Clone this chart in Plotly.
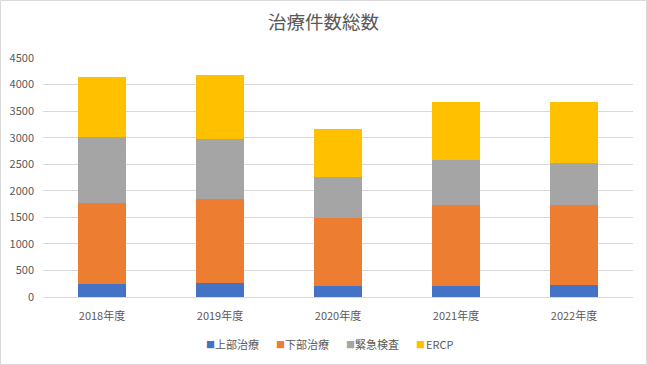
import plotly.graph_objects as go

categories = ["2018年度", "2019年度", "2020年度", "2021年度", "2022年度"]
upper = [251, 270, 213, 213, 232]
lower = [1526, 1582, 1281, 1526, 1507]
emergency = [1243, 1130, 772, 847, 791]
ercp = [1130, 1205, 904, 1093, 1149]

series_names = ["上部治療", "下部治療", "緊急検査", "ERCP"]
colors = ["#4472C4", "#ED7D31", "#A5A5A5", "#FFC000"]

W, H = 647, 365
L, R, T, B = 43, 14, 58, 68
pw, ph = W - L - R, H - T - B

fig = go.Figure()
for name, vals, c in zip(series_names, [upper, lower, emergency, ercp], colors):
    fig.add_trace(go.Bar(x=categories, y=vals, name=name, marker=dict(color=c, line=dict(width=0))))

font_family = "Noto Sans CJK JP, Liberation Sans, sans-serif"
fig.update_layout(
    width=W, height=H,
    barmode="stack", bargap=0.6,
    margin=dict(l=L, r=R, t=T, b=B, autoexpand=False),
    paper_bgcolor="white", plot_bgcolor="white",
    font=dict(family=font_family, color="#595959", size=11),
    title=dict(text="治療件数総数", x=0.5, xanchor="center", y=1 - 23 / H, yanchor="middle",
               font=dict(size=18.5, color="#595959", family=font_family)),
    xaxis=dict(showgrid=False, showline=True, linecolor="#D9D9D9", ticks="", automargin=False,
               ticklabelstandoff=9, tickfont=dict(size=11, color="#595959")),
    yaxis=dict(range=[0, 4500], dtick=500, showgrid=True, gridcolor="#D9D9D9", zeroline=False,
               showline=False, ticks="", automargin=False, ticklabelstandoff=8,
               tickfont=dict(size=11, color="#595959")),
    showlegend=False,
)

# legend drawn as text annotations (Excel-style compact legend)
legend_y = -(344 - (H - B)) / ph
sq_x = [204, 274, 344, 414]
tx_x = [213, 283, 353, 424]
for name, c, sx, tx in zip(series_names, colors, sq_x, tx_x):
    fig.add_annotation(xref="paper", yref="paper", x=(sx - L) / pw, y=legend_y,
                       text="■", showarrow=False, xanchor="left", yanchor="middle",
                       font=dict(size=9, color=c, family=font_family))
    fig.add_annotation(xref="paper", yref="paper", x=(tx - L) / pw, y=legend_y,
                       text=name, showarrow=False, xanchor="left", yanchor="middle",
                       font=dict(size=11, color="#595959", family=font_family))

fig.add_shape(type="rect", xref="paper", yref="paper",
              x0=(0.5 - L) / pw, x1=(W - 0.5 - L) / pw,
              y0=-(B - 0.5) / ph, y1=(H - B - 0.5) / ph,
              line=dict(color="#D9D9D9", width=1), fillcolor="rgba(0,0,0,0)", layer="below")
fig.write_html("out.html", config={"displayModeBar": False},
               post_script="document.body.style.margin='0';document.body.style.padding='0';document.body.style.overflow='hidden';")
